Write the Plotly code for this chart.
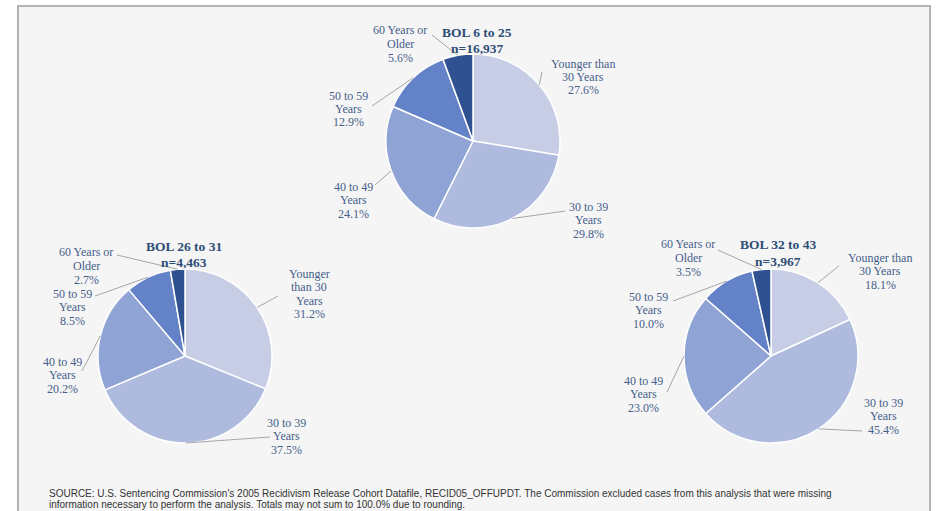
import math

import plotly.graph_objects as go

# Data
AGE_GROUPS = ["Younger than 30 Years", "30 to 39 Years", "40 to 49 Years", "50 to 59 Years", "60 Years or Older"]
BOL_GROUPS = ["BOL 6 to 25", "BOL 26 to 31", "BOL 32 to 43"]
N_OFFENDERS = [16937, 4463, 3967]
PCT_BOL_6_25 = [27.6, 29.8, 24.1, 12.9, 5.6]
PCT_BOL_26_31 = [31.2, 37.5, 20.2, 8.5, 2.7]
PCT_BOL_32_43 = [18.1, 45.4, 23.0, 10.0, 3.5]

SOURCE_NOTE = [
    "SOURCE: U.S. Sentencing Commission's 2005 Recidivism Release Cohort Datafile, RECID05_OFFUPDT. "
    "The Commission excluded cases from this analysis that were missing",
    "information necessary to perform the analysis. Totals may not sum to 100.0% due to rounding.",
]

SLICE_COLORS = ["#c6cde5", "#aebbde", "#8fa3d4", "#6482c7", "#2f5191"]
LABEL_COLOR = "#45608a"
TITLE_COLOR = "#2e4d75"
LEADER_COLOR = "#a6a6a6"

W, H = 938, 511


def px(x):
    return x / W


def py(y):
    return 1 - y / H


# Layout of each pie (pixels): centre, title centre, label centres,
# leader-line attach points next to the labels, and how the labels wrap.
wrap_default = ["Younger than<br>30 Years", "30 to 39<br>Years", "40 to 49<br>Years", "50 to 59<br>Years", "60 Years or<br>Older"]
wrap_narrow = ["Younger<br>than 30<br>Years", "30 to 39<br>Years", "40 to 49<br>Years", "50 to 59<br>Years", "60 Years or<br>Older"]

pies = [
    {
        "values": PCT_BOL_6_25,
        "center": (473, 141),
        "title": (477, 40),
        "labels": [(583, 77), (588, 220), (353, 200), (348, 109), (400, 44)],
        "attach": [(542, 72), (565, 211), (375, 185), (372, 106), (432, 35)],
        "wrap": wrap_default,
    },
    {
        "values": PCT_BOL_26_31,
        "center": (185, 356),
        "title": (184, 254),
        "labels": [(309, 294), (286, 436), (62, 375), (72, 307), (86, 266)],
        "attach": [(278, 296), (270, 437), (82, 371), (95, 296), (117, 255)],
        "wrap": wrap_narrow,
    },
    {
        "values": PCT_BOL_32_43,
        "center": (771, 356),
        "title": (778, 253),
        "labels": [(880, 271), (883, 416), (643, 394), (648, 310), (688, 258)],
        "attach": [(839, 266), (862, 431), (667, 392), (673, 301), (718, 250)],
        "wrap": wrap_default,
    },
]
RADIUS = 87

fig = go.Figure()
annotations = []
shapes = [
    # grey frame behind everything (open at the bottom of the image)
    dict(
        type="rect", xref="paper", yref="paper",
        x0=px(18), x1=px(930), y0=py(530), y1=py(6),
        fillcolor="#f5f5f5", line=dict(color="#b3b3b3", width=2), layer="below",
    )
]


def add_lines(text, x, y, size, color, family, spacing, bold=False, xanchor="center"):
    lines = text.split("<br>")
    for i, line in enumerate(lines):
        yy = y + (i - (len(lines) - 1) / 2) * spacing
        annotations.append(
            dict(
                x=px(x), y=py(yy), xref="paper", yref="paper",
                text=f"<b>{line}</b>" if bold else line,
                showarrow=False, xanchor=xanchor, yanchor="middle",
                font=dict(size=size, color=color, family=family),
            )
        )


for pie, bol, n in zip(pies, BOL_GROUPS, N_OFFENDERS):
    cx, cy = pie["center"]
    fig.add_trace(
        go.Pie(
            values=pie["values"],
            labels=AGE_GROUPS,
            sort=False,
            direction="clockwise",
            rotation=0,
            textinfo="none",
            hoverinfo="label+value",
            marker=dict(colors=SLICE_COLORS, line=dict(color="white", width=1.5)),
            domain=dict(x=[px(cx - RADIUS), px(cx + RADIUS)], y=[py(cy + RADIUS), py(cy - RADIUS)]),
            showlegend=False,
        )
    )
    add_lines(f"{bol}<br>n={n:,}", *pie["title"], 13.5, TITLE_COLOR, "Liberation Serif", 16, bold=True)

    total = sum(pie["values"])
    cum = 0
    for v, wrap, (lx, ly), (ax, ay) in zip(pie["values"], pie["wrap"], pie["labels"], pie["attach"]):
        theta = 2 * math.pi * (cum + v / 2) / total
        cum += v
        ex = cx + RADIUS * math.sin(theta)
        ey = cy - RADIUS * math.cos(theta)
        shapes.append(
            dict(
                type="line", xref="paper", yref="paper",
                x0=px(ex), y0=py(ey), x1=px(ax), y1=py(ay),
                line=dict(color=LEADER_COLOR, width=1),
            )
        )
        add_lines(f"{wrap}<br>{v:.1f}%", lx, ly, 12, LABEL_COLOR, "Liberation Serif", 13.5)

add_lines("<br>".join(SOURCE_NOTE), 47, 498.5, 10, "#333333", "Liberation Sans", 11, xanchor="left")

fig.update_layout(
    width=W,
    height=H,
    margin=dict(l=0, r=0, t=0, b=0),
    paper_bgcolor="white",
    showlegend=False,
    annotations=annotations,
    shapes=shapes,
)

# drop the browser's default body margin so the figure sits at the window corner
fig.write_html(
    "out.html",
    config={"displayModeBar": False},
    post_script="document.body.style.margin='0px';",
)
